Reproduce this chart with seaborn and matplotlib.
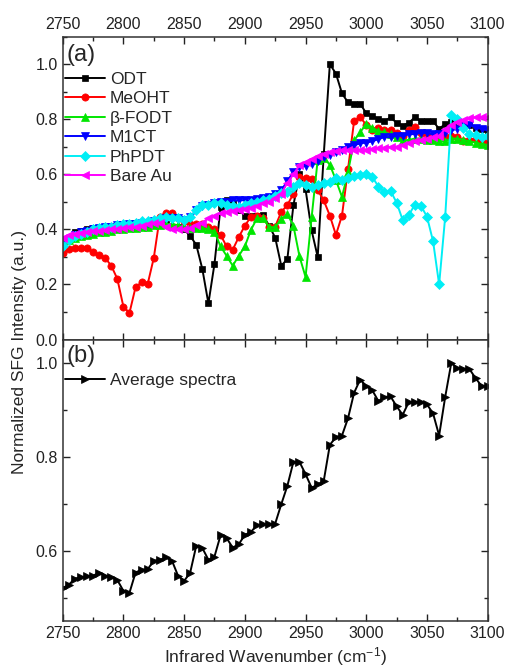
import numpy as np
import pandas as pd
import matplotlib
matplotlib.use("Agg")
import matplotlib.pyplot as plt
from matplotlib.ticker import MultipleLocator
import seaborn as sns

# ---------------- data ----------------
wavenumber = np.arange(2750, 3101, 5)

odt = [0.36, 0.37, 0.39, 0.395, 0.40, 0.405, 0.405, 0.41, 0.41, 0.415,
       0.415, 0.42, 0.42, 0.42, 0.42, 0.42, 0.42, 0.42, 0.41, 0.41,
       0.40, 0.376, 0.344, 0.256, 0.131, 0.275, 0.48, 0.505, 0.495, 0.47,
       0.45, 0.45, 0.45, 0.452, 0.413, 0.37, 0.268, 0.292, 0.488, 0.60,
       0.545, 0.396, 0.30, 0.673, 1.0, 0.966, 0.894, 0.861, 0.856, 0.856,
       0.822, 0.813, 0.80, 0.793, 0.807, 0.787, 0.777, 0.787, 0.807, 0.793,
       0.793, 0.793, 0.765, 0.783, 0.79, 0.78, 0.775, 0.78, 0.77, 0.765, 0.76]

meoht = [0.314, 0.329, 0.331, 0.331, 0.331, 0.317, 0.308, 0.296, 0.268, 0.220,
         0.119, 0.097, 0.190, 0.208, 0.202, 0.296, 0.446, 0.461, 0.458, 0.44,
         0.43, 0.42, 0.42, 0.42, 0.41, 0.40, 0.38, 0.338, 0.326, 0.372,
         0.413, 0.446, 0.45, 0.44, 0.41, 0.41, 0.464, 0.488, 0.53, 0.59,
         0.585, 0.582, 0.543, 0.505, 0.45, 0.38, 0.45, 0.62, 0.795, 0.807,
         0.78, 0.76, 0.77, 0.76, 0.762, 0.75, 0.74, 0.76, 0.771, 0.75,
         0.74, 0.74, 0.74, 0.735, 0.74, 0.735, 0.72, 0.725, 0.73, 0.715, 0.72]

bfodt = [0.355, 0.36, 0.37, 0.375, 0.38, 0.385, 0.39, 0.392, 0.395, 0.40,
         0.40, 0.405, 0.405, 0.41, 0.41, 0.415, 0.415, 0.42, 0.42, 0.415,
         0.41, 0.404, 0.404, 0.404, 0.40, 0.392, 0.338, 0.304, 0.268, 0.304,
         0.338, 0.398, 0.44, 0.44, 0.408, 0.408, 0.437, 0.456, 0.413, 0.302,
         0.227, 0.444, 0.653, 0.66, 0.635, 0.579, 0.518, 0.609, 0.723, 0.753,
         0.783, 0.77, 0.757, 0.753, 0.745, 0.735, 0.723, 0.725, 0.73, 0.73,
         0.725, 0.725, 0.72, 0.72, 0.73, 0.73, 0.725, 0.72, 0.715, 0.71, 0.707]

m1ct = [0.345, 0.36, 0.38, 0.39, 0.395, 0.40, 0.405, 0.41, 0.41, 0.415,
        0.415, 0.42, 0.42, 0.425, 0.425, 0.43, 0.43, 0.44, 0.44, 0.44,
        0.434, 0.446, 0.47, 0.485, 0.49, 0.495, 0.50, 0.50, 0.505, 0.506,
        0.506, 0.505, 0.51, 0.515, 0.518, 0.53, 0.543, 0.575, 0.61, 0.627,
        0.63, 0.639, 0.65, 0.663, 0.67, 0.68, 0.69, 0.70, 0.705, 0.713,
        0.715, 0.72, 0.728, 0.735, 0.735, 0.74, 0.74, 0.745, 0.747, 0.75,
        0.75, 0.745, 0.745, 0.75, 0.76, 0.765, 0.775, 0.78, 0.77, 0.765, 0.76]

phpdt = [0.34, 0.36, 0.375, 0.385, 0.39, 0.40, 0.405, 0.41, 0.41, 0.415,
         0.42, 0.42, 0.425, 0.43, 0.43, 0.435, 0.44, 0.445, 0.44, 0.44,
         0.434, 0.446, 0.47, 0.488, 0.49, 0.495, 0.495, 0.49, 0.485, 0.48,
         0.49, 0.495, 0.50, 0.505, 0.51, 0.52, 0.531, 0.535, 0.555, 0.567,
         0.561, 0.555, 0.56, 0.567, 0.573, 0.585, 0.579, 0.585, 0.593, 0.597,
         0.60, 0.591, 0.555, 0.536, 0.54, 0.497, 0.434, 0.452, 0.49, 0.486,
         0.446, 0.357, 0.20, 0.446, 0.815, 0.801, 0.769, 0.747, 0.742, 0.735, 0.74]

bare_au = [0.37, 0.38, 0.385, 0.388, 0.39, 0.393, 0.395, 0.398, 0.40, 0.402,
           0.404, 0.407, 0.41, 0.414, 0.418, 0.422, 0.425, 0.41, 0.40, 0.40,
           0.40, 0.405, 0.415, 0.425, 0.44, 0.45, 0.458, 0.464, 0.468, 0.472,
           0.475, 0.478, 0.485, 0.495, 0.50, 0.515, 0.53, 0.569, 0.60, 0.633,
           0.645, 0.655, 0.665, 0.675, 0.68, 0.685, 0.687, 0.687, 0.688, 0.69,
           0.69, 0.692, 0.695, 0.697, 0.70, 0.70, 0.705, 0.715, 0.72, 0.725,
           0.73, 0.735, 0.74, 0.765, 0.78, 0.79, 0.798, 0.805, 0.807, 0.807, 0.807]

average = [0.522, 0.529, 0.542, 0.545, 0.547, 0.548, 0.555, 0.548, 0.545, 0.539,
           0.516, 0.512, 0.555, 0.561, 0.562, 0.580, 0.582, 0.587, 0.580, 0.548,
           0.537, 0.555, 0.612, 0.607, 0.582, 0.589, 0.634, 0.628, 0.608, 0.615,
           0.635, 0.641, 0.656, 0.657, 0.657, 0.659, 0.700, 0.739, 0.790, 0.790,
           0.764, 0.735, 0.742, 0.750, 0.826, 0.843, 0.846, 0.883, 0.937, 0.965,
           0.951, 0.942, 0.919, 0.928, 0.929, 0.908, 0.890, 0.917, 0.917, 0.917,
           0.912, 0.893, 0.846, 0.928, 1.000, 0.989, 0.988, 0.987, 0.968, 0.951, 0.951]

series_names = ["ODT", "MeOHT", "\u03b2-FODT", "M1CT", "PhPDT", "Bare Au"]
series_values = [odt, meoht, bfodt, m1ct, phpdt, bare_au]
series_colors = ["#000000", "#FF0000", "#00E600", "#0000FF", "#00EEF5", "#FF00FF"]
series_markers = ["s", "o", "^", "v", "D", "<"]
series_msize = [4.8, 5.2, 5.8, 5.8, 4.8, 5.8]

# ---------------- style ----------------
sns.set_style("ticks")
plt.rcParams["font.family"] = ["Liberation Sans", "DejaVu Sans"]
plt.rcParams["mathtext.fontset"] = "custom"
plt.rcParams["mathtext.rm"] = "Liberation Sans"
plt.rcParams["mathtext.default"] = "regular"
plt.rcParams["xtick.direction"] = "in"
plt.rcParams["ytick.direction"] = "in"

W, H = 509, 667
fig = plt.figure(figsize=(W / 100, H / 100), dpi=100)

left = 62.7 / W
width = (487.7 - 62.7) / W
ax_a = fig.add_axes([left, 1 - 339.5 / H, width, (339.5 - 36.7) / H])
ax_b = fig.add_axes([left, 1 - 621.0 / H, width, (621.0 - 339.5) / H])

# ---------------- panel (a) ----------------
for name, vals, col, mk, ms in zip(series_names, series_values, series_colors,
                                   series_markers, series_msize):
    df = pd.DataFrame({"wn": wavenumber, "val": vals})
    sns.lineplot(data=df, x="wn", y="val", ax=ax_a, color=col, marker=mk,
                 markersize=ms, markeredgecolor=col, markeredgewidth=0.5,
                 linewidth=1.4, label=name, sort=False)

ax_a.set_xlim(2750, 3100)
ax_a.set_ylim(0.0, 1.1)

# ---------------- panel (b) ----------------
df_avg = pd.DataFrame({"wn": wavenumber, "val": average})
sns.lineplot(data=df_avg, x="wn", y="val", ax=ax_b, color="black", marker=">",
             markersize=5.8, markeredgecolor="black", markeredgewidth=0.5,
             linewidth=1.4, label="Average spectra", sort=False)
ax_b.set_xlim(2750, 3100)
ax_b.set_ylim(0.452, 1.05)

# ---------------- axes formatting ----------------
for ax in (ax_a, ax_b):
    ax.set_xlabel("")
    ax.set_ylabel("")
    for sp in ax.spines.values():
        sp.set_visible(True)
        sp.set_linewidth(1.1)
        sp.set_color("#333333")
    ax.xaxis.set_major_locator(MultipleLocator(50))
    ax.xaxis.set_minor_locator(MultipleLocator(25))
    ax.yaxis.set_major_locator(MultipleLocator(0.2))
    ax.yaxis.set_minor_locator(MultipleLocator(0.1))
    ax.tick_params(which="both", direction="in", top=True, right=True,
                   bottom=True, left=True, labelsize=11.5, colors="#222222")
    ax.tick_params(which="major", length=5, width=1.0)
    ax.tick_params(which="minor", length=3, width=1.0)

ax_a.tick_params(axis="x", labelbottom=False, labeltop=True)
ax_b.tick_params(axis="x", labelbottom=True, labeltop=False)
ax_a.yaxis.set_major_formatter(plt.FuncFormatter(lambda v, p: f"{v:.1f}"))
ax_b.yaxis.set_major_formatter(plt.FuncFormatter(lambda v, p: f"{v:.1f}"))

# legends
ax_a.legend(loc="upper left", bbox_to_anchor=(0.005, 0.885), frameon=False,
            fontsize=12.5, handlelength=2.3, handletextpad=0.3,
            labelspacing=0.25, borderaxespad=0, borderpad=0)
ax_b.legend(loc="upper left", bbox_to_anchor=(0.005, 0.88), frameon=False,
            fontsize=12.5, handlelength=2.3, handletextpad=0.3,
            labelspacing=0.25, borderaxespad=0, borderpad=0)

ax_a.text(0.01, 0.94, "(a)", transform=ax_a.transAxes, fontsize=17,
          va="center", ha="left")
ax_b.text(0.01, 0.94, "(b)", transform=ax_b.transAxes, fontsize=17,
          va="center", ha="left")

fig.text(20 / W, 1 - 352.5 / H, "Normalized SFG Intensity (a.u.)", rotation=90,
         ha="center", va="center", fontsize=12.5)
fig.text((62.7 + 487.7) / 2 / W, 1 - 657 / H, "Infrared Wavenumber (cm$^{-1}$)",
         ha="center", va="center", fontsize=12.5)

fig.savefig("out.png", dpi=100)
